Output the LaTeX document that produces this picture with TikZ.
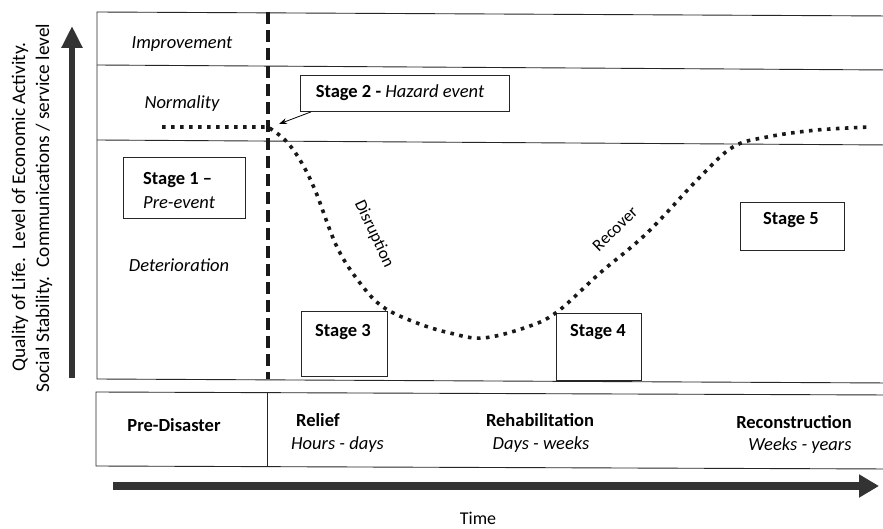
\documentclass[tikz,border=0pt]{standalone}
\usepackage{fontspec}
\setmainfont{Carlito}
\usetikzlibrary{arrows.meta}
\begin{document}
\begin{tikzpicture}[x=1pt,y=-1pt,
  every node/.style={font=\fontsize{18.5}{22}\selectfont, inner sep=0pt},
  frame/.style={draw=black!85, line width=0.9pt},
  stagebox/.style={draw=black!85, line width=0.9pt, anchor=north west},
  dotcurve/.style={line width=3.6pt, dash pattern=on 3.6pt off 5.4pt, black!90},
  eventline/.style={line width=3.6pt, dash pattern=on 12pt off 6pt, black!90},
  bigarrow/.style={draw=black!80, line width=#1},
  it/.style={font=\itshape\fontsize{18.5}{22}\selectfont},
  bf/.style={font=\bfseries\fontsize{18.5}{22}\selectfont},
  axislbl/.style={rotate=90, font=\fontsize{19.3}{23}\selectfont}
]
\useasboundingbox (0,0) rectangle (883,529);

% main frame
\draw[frame] (890,16) -- (97,12) -- (97,379) -- (890,383);
\draw[frame] (97,65) -- (890,70);
\draw[frame] (97,140) -- (890,145);

% bottom frame
\draw[frame] (890,395) -- (96,392) -- (96,466) -- (890,469);
\draw[frame] (267,392) -- (267,466);

% event line
\coordinate (evtop) at (268,12);
\coordinate (evbot) at (268,379);
\draw[eventline] (evtop) -- (evbot);

% zone labels
\node[it] (improve) at (182,44) {Improvement};
\node[it] (normal) at (182,104) {Normality};
\node[it] (deter) at (179,265) {Deterioration};

% stage boxes
\node[stagebox, minimum width=122pt, minimum height=61pt] (s1) at (123,157) {};
\node[anchor=west, bf] (s1a) at (143,180) {Stage 1 –};
\node[anchor=west, it] (s1b) at (143,203) {Pre-event};

\node[stagebox, minimum width=209pt, minimum height=36pt] (s2) at (300,75) {};
\node (s2t) at (400,93) {\bfseries Stage 2 - \mdseries\itshape Hazard event};

\node[stagebox, minimum width=86pt, minimum height=65pt] (s3) at (301,311) {};
\node[bf] (s3t) at (343,332) {Stage 3};

\node[stagebox, minimum width=85pt, minimum height=67pt] (s4) at (556,313) {};
\node[bf] (s4t) at (598,332) {Stage 4};

\node[stagebox, minimum width=104pt, minimum height=48pt] (s5) at (740,202) {};
\node[bf] (s5t) at (791,220) {Stage 5};

% curve
\coordinate (evpt) at (268,127);
\coordinate (evtip) at (279,124);
\draw[dotcurve] (162,127) -- (evpt) -- plot[smooth, tension=0.6] coordinates {(268,127) (285,140) (300,160) (315,190) (337,247) (360,283) (383,307) (417,323) (450,333) (483,338) (527,327) (557,312) (600,273) (647,233) (700,177) (733,147) (767,137) (817,130) (870,127)};

% arrow from stage 2
\draw[-{Stealth[length=8pt,width=6pt]}, line width=0.8pt] ([xshift=11pt]s2.south west) -- (evtip);

% curve labels
\node[rotate=-65, font=\fontsize{17}{20}\selectfont] (disr) at (374,234) {Disruption};
\node[rotate=44, font=\fontsize{17}{20}\selectfont] (recov) at (615,229) {Recover};

% y axis
\coordinate (ya) at (72,378);
\coordinate (yb) at (72,26);
\draw[bigarrow=6pt, -{Triangle[width=20pt,length=22pt]}] (ya) -- (yb);
\node[axislbl] (ylab1) at (20,207) {Quality of Life.\ \ Level of Economic Activity.};
\node[axislbl] (ylab2) at (44,208) {Social Stability.\ \ Communications / service level};

% phases
\node[bf] (pre) at (174,425) {Pre-Disaster};
\node[anchor=west, bf] (relief) at (296,420) {Relief};
\node[anchor=west, it] (reliefd) at (291,445) {Hours - days};
\node[bf] (rehab) at (540,420) {Rehabilitation};
\node[it] (rehabd) at (541,445) {Days - weeks};
\node[bf] (recon) at (794,422) {Reconstruction};
\node[it] (recond) at (800,446) {Weeks - years};

% time arrow
\coordinate (ta) at (113,486);
\coordinate (tb) at (879,486);
\draw[bigarrow=8pt, -{Triangle[width=22pt,length=20pt]}] (ta) -- (tb);
\node[font=\fontsize{18}{21}\selectfont] (time) at (478,518) {Time};
\end{tikzpicture}
\end{document}
